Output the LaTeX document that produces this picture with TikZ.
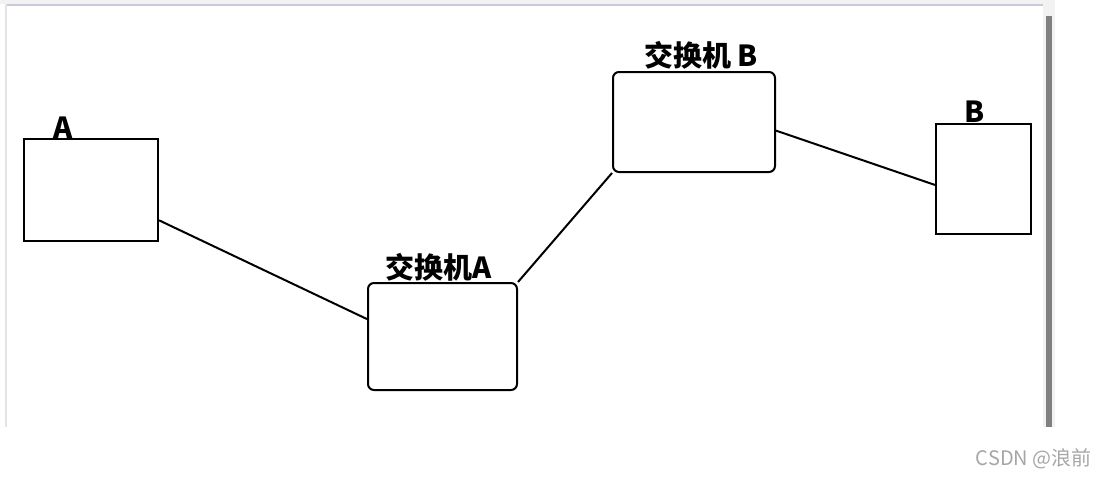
\documentclass[tikz,border=0pt]{standalone}
\usepackage{fontspec}
\setmainfont{Noto Sans CJK SC}
\usepackage{tikz}
\usetikzlibrary{positioning}

\begin{document}
\begin{tikzpicture}[x=1pt,y=-1pt,line width=2pt,
  switch/.style={draw,rounded corners=6pt},
  tag/.style={anchor=base,font=\fontsize{29}{31}\selectfont\bfseries}]
\useasboundingbox (0,0) rectangle (1102,477);
% screenshot frame
\fill[black!5] (0,0) rectangle (1043,4);
\fill[blue!20!gray!35] (5,4) rectangle (1043,6);
\fill[blue!10!gray!20] (5,4) rectangle (7,427);
\fill[black!5] (1043,0) rectangle (1055,427);
\fill[black!50] (1046,16) rectangle (1052,427);
% devices
\node[draw,minimum width=134pt,minimum height=102pt] (hostA) at (91,190) {};
\node[switch,minimum width=149pt,minimum height=107pt] (swA) at (442.5,336.5) {};
\node[switch,minimum width=162pt,minimum height=100pt] (swB) at (694,122) {};
\node[draw,minimum width=95pt,minimum height=110pt] (hostB) at (983.5,179) {};
\node[tag] (tagA) at (63,138) {A};
\node[tag] (tagSwA) at (439,278) {交换机A};
\node[tag] (tagSwB) at (701,66) {交换机 B};
\node[tag] (tagB) at (975,122) {B};
% links
\draw (hostA.-24) -- (swA.167);
\draw (swA.north east) -- (swB.south west);
\draw (swB.-6) -- (hostB.-173);
\node[anchor=base east,text=black!35,font=\fontsize{20}{22}\selectfont] (mark) at (1096,465) {CSDN @浪前};
\end{tikzpicture}
\end{document}
